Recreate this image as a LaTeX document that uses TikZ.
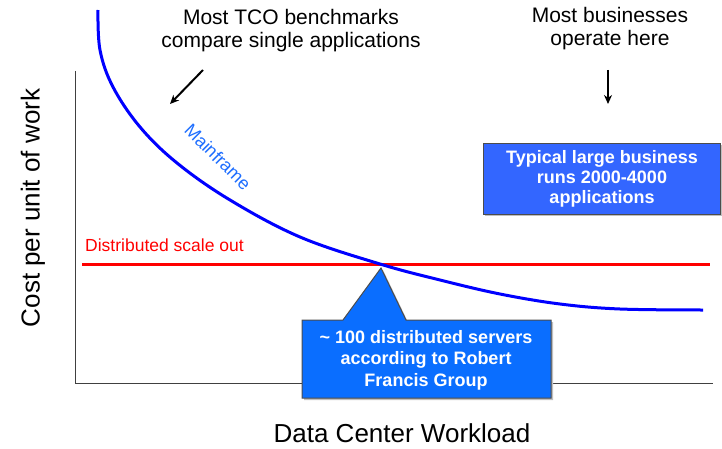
\documentclass[tikz,border=0pt]{standalone}
\usepackage{fontspec}
\setmainfont{Liberation Sans}
\usetikzlibrary{arrows.meta}
\definecolor{curveblue}{RGB}{0,0,255}
\definecolor{labelblue}{RGB}{30,110,255}
\definecolor{boxblue}{RGB}{51,102,255}
\definecolor{callblue}{RGB}{10,110,255}
\tikzset{
  axis/.style={draw=black!75, line width=1pt},
  note/.style={align=center, font=\fontsize{21}{23}\selectfont, inner sep=0pt},
  bigtext/.style={font=\fontsize{26}{30}\selectfont, inner sep=0pt},
  boxtext/.style={align=center, text=white, font=\bfseries\fontsize{18}{20}\selectfont, inner sep=0pt},
  pointer/.style={-{Stealth[length=9pt,width=8pt]}, line width=2pt, black},
  boxframe/.style={draw=black!70, line width=1pt},
}
\begin{document}
\begin{tikzpicture}[x=1pt,y=-1pt]
\useasboundingbox (0,0) rectangle (722,449);
% axes
\coordinate (o) at (75,383);
\coordinate (ytop) at (75,71);
\coordinate (xend) at (713,383);
\draw[axis] (ytop) -- (o) -- (xend);
% red line
\coordinate (r1) at (82,264);
\coordinate (r2) at (710,264);
\draw[red, line width=3pt] (r1) -- (r2);
\node[anchor=base west, text=red, font=\fontsize{17.5}{20}\selectfont, inner sep=0pt] (dist) at (85,251) {Distributed scale out};
% mainframe curve
\draw[curveblue, line width=3pt] plot[smooth, tension=0.6] coordinates {(98,10) (100,50) (113,87) (140,127) (177,163) (230,200) (300,237) (380,264) (440,280) (500,294) (560,304) (620,309) (703,310)};
\node[text=labelblue, rotate=-45, font=\fontsize{18}{20}\selectfont, inner sep=0pt] (mf) at (218,157) {Mainframe};
% top notes
\node[note] (tco) at (291,31) {Most TCO benchmarks\\compare single applications};
\node[note] (biz) at (610,29) {Most businesses\\operate here};
\coordinate (a1s) at (203,70);
\coordinate (a1e) at (170,104);
\draw[pointer] (a1s) -- (a1e);
\coordinate (a2s) at (608,70);
\coordinate (a2e) at (608,104);
\draw[pointer] (a2s) -- (a2e);
% top right box
\fill[black!25] (485,145) rectangle (722,216);
\node[boxframe, fill=boxblue, minimum width=237pt, minimum height=71pt, anchor=north west, inner sep=0pt] (bigbox) at (483,143) {};
\node[boxtext] (bigboxtext) at (bigbox.center) {Typical large business\\runs 2000-4000\\applications};
% callout
\fill[black!25] (304,322) -- (345,322) -- (383,270) -- (408,322) -- (553,322) -- (553,400) -- (304,400) -- cycle;
\draw[boxframe, fill=callblue] (302,320) -- (343,320) -- (381,268) -- (406,320) -- (551,320) -- (551,398) -- (302,398) -- cycle;
\node[boxtext, font=\bfseries\fontsize{18}{21.5}\selectfont] (calltext) at (426,360) {\textasciitilde{} 100 distributed servers\\according to Robert\\Francis Group};
% axis labels
\node[bigtext] (xlabel) at (402,433) {Data Center Workload};
\node[bigtext, rotate=90] (ylabel) at (33,208) {Cost per unit of work};
\end{tikzpicture}
\end{document}
